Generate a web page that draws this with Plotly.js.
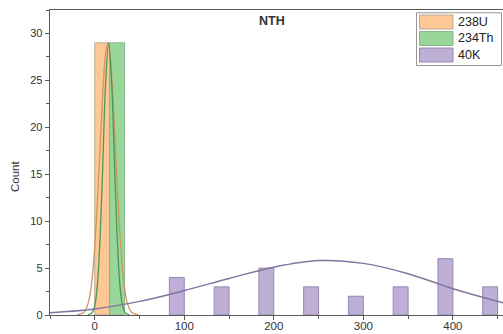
<!DOCTYPE html>
<html>
<head>
<meta charset="utf-8">
<script src="https://cdn.plot.ly/plotly-3.0.1.min.js"></script>
<style>html,body{margin:0;padding:0;background:#fff;}#chart{width:503px;height:334px;}</style>
</head>
<body>
<div id="chart"></div>
<script>
// Histogram bins (bin width 50), bin centres
const u238Bins = [25];
const u238Counts = [29];
const th234Bins = [25];
const th234Counts = [29];
const k40Bins = [75, 125, 175, 225, 275, 325, 375, 425];
const k40Counts = [4, 3, 5, 3, 2, 3, 6, 3];

// Distribution curves
const u238CurveX = [-20, -12, -7, -3, 1, 5, 9, 12, 14.5, 17, 20, 24, 28, 32, 36, 41, 49];
const u238CurveY = [0, 0.3, 1.4, 3.8, 8.8, 16, 23.7, 27.8, 29, 27.8, 23.7, 16, 8.8, 3.8, 1.4, 0.3, 0];
const th234CurveX = [-8, -3, 0, 3, 6, 9, 12, 15.5, 19, 22, 25, 28, 31, 34, 39];
const th234CurveY = [0, 0.25, 1.0, 3.3, 8.3, 16.1, 24.5, 29, 24.5, 16.1, 8.3, 3.3, 1.0, 0.25, 0];
const k40CurveX = [-50, 0, 50, 100, 150, 200, 250, 300, 350, 400, 456];
const k40CurveY = [0.25, 0.65, 1.45, 2.6, 3.9, 5.1, 5.8, 5.5, 4.4, 2.8, 1.3];

const seriesNames = ['238U', '234Th', '40K'];
const fillColors = ['rgb(253,200,150)', 'rgb(152,214,154)', 'rgb(190,175,214)'];
const edgeColors = ['rgb(190,170,150)', 'rgb(140,180,140)', 'rgb(150,136,176)'];
const curveColors = ['rgb(205,150,95)', 'rgb(80,150,85)', 'rgb(130,118,160)'];

const font = 'Arial, "Liberation Sans", sans-serif';

const traces = [
  {type:'bar', x:u238Bins, y:u238Counts, name:seriesNames[0], marker:{color:fillColors[0], line:{color:edgeColors[0], width:1}}},
  {type:'bar', x:th234Bins, y:th234Counts, name:seriesNames[1], marker:{color:fillColors[1], line:{color:edgeColors[1], width:1}}},
  {type:'bar', x:k40Bins, y:k40Counts, name:seriesNames[2], marker:{color:fillColors[2], line:{color:edgeColors[2], width:1}}},
  {type:'scatter', mode:'lines', x:u238CurveX, y:u238CurveY, line:{color:curveColors[0], width:1.3, shape:'spline'}, showlegend:false},
  {type:'scatter', mode:'lines', x:th234CurveX, y:th234CurveY, line:{color:curveColors[1], width:1.3, shape:'spline'}, showlegend:false},
  {type:'scatter', mode:'lines', x:k40CurveX, y:k40CurveY, line:{color:curveColors[2], width:1.5, shape:'spline'}, showlegend:false}
];

// plot area in pixels
const L = 50, T = 10, W = 453, H = 305;
const px = v => (v - L) / W;
const py = v => (T + H - v) / H;

const shapes = [];
const annotations = [];
// legend box
shapes.push({type:'rect', xref:'paper', yref:'paper', x0:px(416.5), x1:px(501.5), y0:py(65.5), y1:py(12.8),
  line:{color:'rgb(150,150,150)', width:1}, fillcolor:'#fff', layer:'above'});
const rowTops = [15, 31.5, 48];
seriesNames.forEach((n, i) => {
  shapes.push({type:'rect', xref:'paper', yref:'paper', x0:px(419.5), x1:px(453), y0:py(rowTops[i] + 14), y1:py(rowTops[i]),
    line:{color:edgeColors[i], width:1}, fillcolor:fillColors[i], layer:'above'});
  annotations.push({xref:'paper', yref:'paper', x:px(456), y:py(rowTops[i] + 7), xanchor:'left', yanchor:'middle',
    text:n, showarrow:false, font:{family:font, size:12.5, color:'#222'}});
});
annotations.push({xref:'paper', yref:'paper', x:px(272), y:py(21), xanchor:'center', yanchor:'middle',
  text:'<b>NTH</b>', showarrow:false, font:{family:font, size:12.5, color:'#333'}});
annotations.push({xref:'paper', yref:'paper', x:px(15), y:py(177), xanchor:'center', yanchor:'middle', textangle:-90,
  text:'Count', showarrow:false, font:{family:font, size:11.5, color:'#333'}});

const layout = {
  width:503, height:334,
  margin:{l:L, r:0, t:T, b:334 - T - H, pad:0},
  paper_bgcolor:'#fff', plot_bgcolor:'#fff',
  barmode:'group', bargap:0, bargroupgap:0,
  showlegend:false,
  font:{family:font, size:11, color:'#333'},
  xaxis:{range:[-50, 456], tickvals:[0,100,200,300,400], showgrid:false, zeroline:false,
    showline:true, linecolor:'rgb(90,90,90)', linewidth:1.3, mirror:true,
    ticks:'outside', ticklen:4, tickcolor:'rgb(90,90,90)', ticklabelstandoff:-4,
    tickfont:{family:font, size:11.5, color:'#333'},
    minor:{dtick:50, tick0:50, ticks:'outside', ticklen:2.5, tickcolor:'rgb(90,90,90)'}},
  yaxis:{range:[0, 32.5], tickvals:[0,5,10,15,20,25,30], showgrid:false, zeroline:false,
    showline:true, linecolor:'rgb(90,90,90)', linewidth:1.3,
    ticks:'outside', ticklen:4, tickcolor:'rgb(90,90,90)', tickfont:{family:font, size:11, color:'#333'},
    minor:{dtick:2.5, ticks:'outside', ticklen:2.5, tickcolor:'rgb(90,90,90)'}},
  shapes:shapes,
  annotations:annotations
};

Plotly.newPlot('chart', traces, layout, {staticPlot:true, displayModeBar:false});
</script>
</body>
</html>
